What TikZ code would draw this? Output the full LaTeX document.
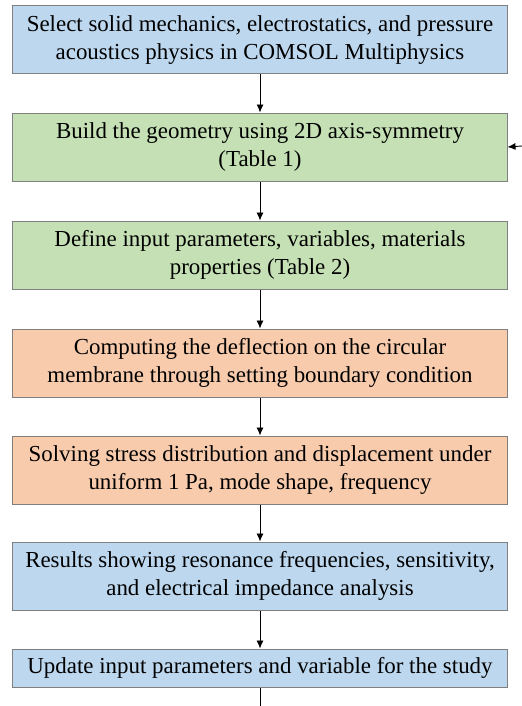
\documentclass[tikz,border=0pt]{standalone}
\usepackage{fontspec}
\setmainfont{Liberation Serif}
\usetikzlibrary{positioning,arrows.meta}
\definecolor{stepBlue}{RGB}{189,215,238}
\definecolor{stepGreen}{RGB}{197,224,180}
\definecolor{stepOrange}{RGB}{248,203,173}
\definecolor{stepBorder}{RGB}{128,128,128}

\begin{document}
\begin{tikzpicture}[
    x=1bp, y=1bp,
    node distance=38bp,
    box/.style={
        draw=stepBorder,
        line width=1bp,
        align=center,
        inner sep=0pt,
        minimum height=68bp,
        minimum width=494bp,
        font=\fontsize{23}{28}\selectfont
    },
    arrow/.style={
        ->,
        >={Latex[length=8bp,width=7bp]},
        line width=0.9bp,
        color=black
    }
]
    \useasboundingbox (0,0) rectangle (522,-706);

    % ---------------------------------------------------------
    % PHYSICS SETUP
    % ---------------------------------------------------------
    \node[box, fill=stepBlue] (physics) at (260,-40) {Select solid mechanics, electrostatics, and pressure\\acoustics physics in COMSOL Multiphysics};

    % ---------------------------------------------------------
    % MODEL DEFINITION
    % ---------------------------------------------------------
    \node[box, below=of physics, fill=stepGreen] (geometry) {Build the geometry using 2D axis-symmetry\\(Table 1)};
    \node[box, below=39bp of geometry, fill=stepGreen] (params) {Define input parameters, variables, materials\\properties (Table 2)};

    % ---------------------------------------------------------
    % COMPUTATION
    % ---------------------------------------------------------
    \node[box, below=39bp of params, fill=stepOrange] (deflection) {Computing the deflection on the circular\\membrane through setting boundary condition};
    \node[box, below=of deflection, fill=stepOrange] (stress) {Solving stress distribution and displacement under\\uniform 1 Pa, mode shape, frequency};

    % ---------------------------------------------------------
    % RESULTS AND UPDATE
    % ---------------------------------------------------------
    \node[box, below=37bp of stress, fill=stepBlue] (results) {Results showing resonance frequencies, sensitivity,\\and electrical impedance analysis};
    \node[box, below=of results, fill=stepBlue, minimum height=38bp] (update) {Update input parameters and variable for the study};

    % loose ends
    \coordinate (feedIn) at (522,-146);
    \coordinate (feedOut) at (260,-706);

    % ---------------------------------------------------------
    % ARROWS
    % ---------------------------------------------------------
    \draw[arrow] (physics.south) -- (geometry.north);
    \draw[arrow] (geometry.south) -- (params.north);
    \draw[arrow] (params.south) -- (deflection.north);
    \draw[arrow] (deflection.south) -- (stress.north);
    \draw[arrow] (stress.south) -- (results.north);
    \draw[arrow] (results.south) -- (update.north);
    \draw[arrow] (feedIn) -- (geometry.east);
    \draw[line width=0.9bp] (update.south) -- (feedOut);

\end{tikzpicture}
\end{document}
